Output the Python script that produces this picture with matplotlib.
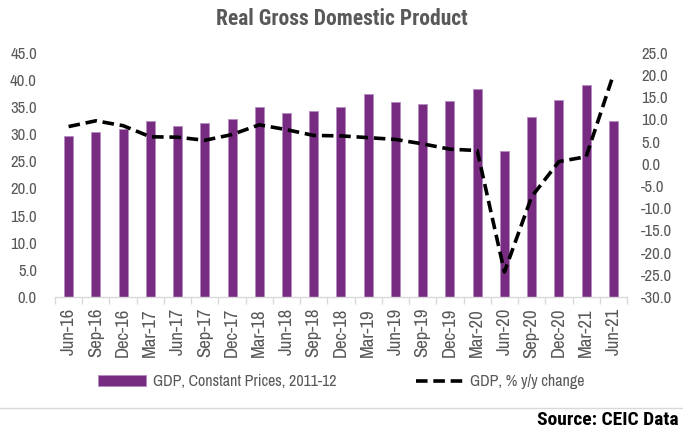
import matplotlib
matplotlib.use("Agg")
import matplotlib.pyplot as plt
from matplotlib import font_manager
import numpy as np

names = {f.name for f in font_manager.fontManager.ttflist}
fam = [n for n in ["Archivo Narrow", "Roboto Condensed", "PT Sans Narrow"] if n in names] + ["DejaVu Sans"]
bold_fam = [n for n in ["Roboto Condensed", "Archivo Narrow"] if n in names] + ["DejaVu Sans"]
plt.rcParams['font.family'] = fam

categories = ["Jun-16", "Sep-16", "Dec-16", "Mar-17", "Jun-17", "Sep-17", "Dec-17",
              "Mar-18", "Jun-18", "Sep-18", "Dec-18", "Mar-19", "Jun-19", "Sep-19",
              "Dec-19", "Mar-20", "Jun-20", "Sep-20", "Dec-20", "Mar-21", "Jun-21"]
gdp_const = [29.6, 30.4, 30.9, 32.4, 31.6, 32.1, 32.9, 35.1, 33.9, 34.2, 35.1,
             37.4, 35.9, 35.6, 36.2, 38.4, 26.9, 33.1, 36.4, 39.1, 32.4]
gdp_yoy = [8.4, 9.7, 8.6, 6.1, 6.0, 5.3, 6.6, 8.8, 7.7, 6.4, 6.3,
           5.9, 5.5, 4.5, 3.3, 3.0, -24.4, -7.4, 0.5, 1.6, 20.1]
left_ticks = [0, 5, 10, 15, 20, 25, 30, 35, 40, 45]
right_ticks = [-30, -25, -20, -15, -10, -5, 0, 5, 10, 15, 20, 25]

gray = "#595959"
purple = "#772C82"

fig = plt.figure(figsize=(6.83, 4.34), dpi=100)
ax = fig.add_axes([0.0805, 0.316, 0.8375, 0.562])
ax2 = ax.twinx()

x = np.arange(len(categories))
bars = ax.bar(x, gdp_const, width=0.33, color=purple, edgecolor="#b58cc0", linewidth=0.6,
              label="GDP, Constant Prices, 2011-12", zorder=2)
line, = ax2.plot(x, gdp_yoy, color="black", lw=2.6, ls=(0, (3.2, 1.6)),
                 label="GDP, % y/y change", zorder=3)

ax.set_xlim(-0.5, len(categories) - 0.5)
ax.set_ylim(0, 45)
ax2.set_ylim(-30, 25)
ax.set_yticks(left_ticks)
ax.set_yticklabels([f"{v:.1f}" for v in left_ticks])
ax2.set_yticks(right_ticks)
ax2.set_yticklabels([f"{v:.1f}" for v in right_ticks])

ax.set_xticks(x)
ax.set_xticklabels(categories, rotation=90)
ax.set_xticks(np.arange(-0.5, len(categories)), minor=True)
ax.tick_params(axis='x', which='major', length=0, pad=8, labelsize=13.5, labelcolor=gray)
ax.tick_params(axis='x', which='minor', length=5, color="#d9d9d9", width=1)
ax.tick_params(axis='y', length=0, pad=13, labelsize=12, labelcolor=gray)
ax2.tick_params(axis='y', length=0, pad=10, labelsize=12, labelcolor=gray)

for a in (ax, ax2):
    for s in ["top", "left", "right", "bottom"]:
        a.spines[s].set_visible(False)
ax.spines["bottom"].set_visible(True)
ax.spines["bottom"].set_color("#d9d9d9")
ax.spines["bottom"].set_linewidth(1)

fig.text(0.5, 0.957, "Real Gross Domestic Product", ha="center", va="center",
         fontsize=15.5, fontweight="bold", color=gray, family=bold_fam)

fig.legend([bars, line], ["GDP, Constant Prices, 2011-12", "GDP, % y/y change"],
           loc="center", bbox_to_anchor=(0.5, 0.12), ncol=2, frameon=False,
           fontsize=11.5, labelcolor=gray, handlelength=3.0, handleheight=0.7,
           columnspacing=5.0, handletextpad=0.4)

fig.add_artist(plt.Line2D([0, 1], [0.06, 0.06], color="#d9d9d9", lw=1,
                          transform=fig.transFigure))
fig.text(0.993, 0.032, "Source: CEIC Data", ha="right", va="center",
         fontsize=14, fontweight="bold", color="black", family=bold_fam)

fig.savefig("out.png", dpi=100)
